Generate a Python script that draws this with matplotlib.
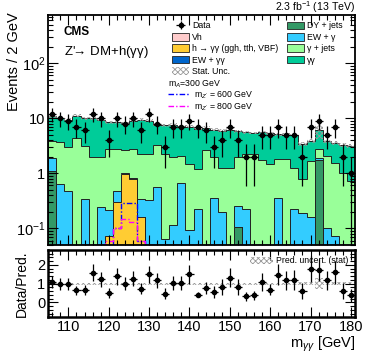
import numpy as np
import matplotlib
matplotlib.use("Agg")
import matplotlib.pyplot as plt
from matplotlib.patches import Patch
from matplotlib.lines import Line2D
from matplotlib.ticker import MultipleLocator, FixedLocator, FuncFormatter, LogLocator

plt.rcParams["font.family"] = ["Liberation Sans", "DejaVu Sans"]
plt.rcParams["mathtext.fontset"] = "custom"
plt.rcParams["mathtext.rm"] = "Liberation Sans"
plt.rcParams["mathtext.it"] = "Liberation Sans:italic"
plt.rcParams["hatch.linewidth"] = 0.6

# -------------------------
# Data
# -------------------------
edges = np.arange(105, 183, 2)          # 2 GeV bins, 105-181
centers = edges[:-1] + 1

dy_jets = [1.1, 0, 0, 0, 0, 0, 0, 0, 0, 0, 0, 0, 0, 0, 0, 0, 0, 0, 0, 0,
           0, 0, 0, 0.105, 0, 0, 0, 0, 0, 0, 0, 0, 0, 1.72, 0, 0, 0, 0]
vh = [0, 0, 0, 0, 0, 0, 0, 0, 0.005, 0.01, 0.01, 0.005, 0, 0, 0, 0, 0, 0, 0, 0,
      0, 0, 0, 0, 0, 0, 0, 0, 0, 0, 0, 0, 0, 0, 0, 0, 0, 0]
h_gg = [0, 0, 0, 0, 0, 0, 0.03, 0.074, 0.30, 0.95, 0.77, 0.155, 0, 0, 0, 0, 0, 0, 0, 0,
        0, 0, 0, 0, 0, 0, 0, 0, 0, 0, 0, 0, 0, 0, 0, 0, 0, 0]
ew_gg = [0, 0, 0, 0, 0, 0, 0, 0, 0, 0.01, 0.01, 0, 0, 0, 0, 0, 0, 0, 0, 0,
         0, 0, 0, 0, 0, 0, 0, 0, 0, 0, 0, 0, 0, 0, 0, 0, 0, 0]
ew_g = [0.76, 0.65, 0.48, 0, 0.34, 0, 0.215, 0.14, 0.17, 0.05, 0.02, 0.175, 0.33, 0.57,
        0.065, 0.116, 0.66, 0.094, 0.22, 0, 0.35, 0.20, 0, 0.145, 0.22, 0, 0, 0, 0.36,
        0, 0.22, 0.187, 0.16, 0.14, 0.102, 0.074, 0, 0]
g_jets = [2.04, 3.05, 2.52, 4.3, 2.76, 2.0, 1.76, 2.59, 2.23, 1.58, 1.99, 1.87, 1.87,
          2.73, 2.14, 1.88, 1.44, 1.41, 0.98, 2.6, 1.62, 1.06, 1.26, 1.72, 1.98, 2.2,
          1.72, 1.45, 1.42, 1.78, 1.04, 0.59, 1.5, 0.94, 1.95, 1.48, 1.02, 0.73]
gg = [6.9, 6.6, 6.4, 6.9, 6.9, 8.0, 7.4, 5.7, 5.8, 5.6, 6.2, 7.2, 6.8, 4.3, 5.2, 5.6,
      5.0, 5.5, 5.3, 4.1, 4.2, 4.7, 4.9, 3.8, 3.4, 3.2, 3.9, 3.9, 3.3, 3.2, 3.7, 2.6,
      2.2, 3.2, 1.75, 2.0, 2.3, 2.4]
stat_rel = [0.06] * 31 + [0.08, 0.08, 0.30, 0.08, 0.08, 0.08, 0.08]

data = [12, 10, 9, 7, 6, 12, 10, 4, 10, 8, 10, 6, 12, 8, 3, 7, 7, 9, 7, 6,
        3, 4, 7, 4, 2, 2, 5, 5, 7, 5, 5, 2, 7, 9, 5, 7, 2, 1]
ratio = [1.08, 1.0, 0.97, 0.65, 0.65, 1.58, 1.23, 0.5, 1.39, 1.0, 1.26, 0.73, 1.49,
         1.17, 0.47, 1.03, 1.03, 1.49, 0.42, 0.79, 0.56, 0.82, 1.32, 0.82, 0.34, 0.37,
         1.08, 0.68, 1.47, 1.17, 1.2, 0.61, 1.79, 1.74, 1.17, 1.61, 0.61, 0.37]

sig_600 = [0, 0, 0, 0, 0, 0, 0, 0, 0.10, 0.29, 0.29, 0.06, 0, 0, 0, 0, 0, 0, 0, 0,
           0, 0, 0, 0, 0, 0, 0, 0, 0, 0, 0, 0, 0, 0, 0, 0, 0, 0]
sig_800 = [0, 0, 0, 0, 0, 0, 0, 0.06, 0.10, 0.15, 0.13, 0.06, 0, 0, 0, 0, 0, 0, 0, 0,
           0, 0, 0, 0, 0, 0, 0, 0, 0, 0, 0, 0, 0, 0, 0, 0, 0, 0]

components = [
    ("DY + jets", dy_jets, "#339966"),
    ("Vh", vh, "#ffcccc"),
    ("h → γγ (ggh, tth, VBF)", h_gg, "#ffcc33"),
    ("EW + γγ", ew_gg, "#0066cc"),
    ("EW + γ", ew_g, "#33ccff"),
    ("γ + jets", g_jets, "#99ff99"),
    ("γγ", gg, "#00cc99"),
]

YMIN, YMAX = 0.05, 750
DASHDOT = (0, (4, 1.5, 1, 1.5))

# -------------------------
# Figure
# -------------------------
fig = plt.figure(figsize=(3.74, 3.57), dpi=100)
ax = fig.add_axes([0.129, 0.314, 0.820, 0.644])
rax = fig.add_axes([0.129, 0.112, 0.820, 0.188])

# stacked backgrounds, drawn from the top layer down
cum = np.cumsum([np.array(c[1], dtype=float) for c in components], axis=0)
for k in range(len(components) - 1, -1, -1):
    top = np.maximum(cum[k], 1e-4)
    ax.stairs(top, edges, baseline=1e-4, fill=True, color=components[k][2], lw=0)
    ax.stairs(top, edges, baseline=1e-4, color="#222222", lw=0.7)

total = cum[-1]
rel = np.array(stat_rel)
ax.fill_between(edges, np.r_[total * (1 - rel), total[-1] * (1 - rel[-1])],
                np.r_[total * (1 + rel), total[-1] * (1 + rel[-1])], step="post",
                facecolor="none", edgecolor="#999999", hatch="xxxxxx", lw=0)

# signals
ax.stairs(np.maximum(sig_600, YMIN * 1.01), edges, color="#0000ff", lw=1.0,
          linestyle=DASHDOT)
ax.stairs(np.maximum(sig_800, YMIN * 1.01), edges, color="#ff00ff", lw=1.0,
          linestyle=DASHDOT)

# data
data = np.array(data, dtype=float)
derr = ax.errorbar(centers, data, xerr=1, yerr=np.sqrt(data), fmt="o", ms=3,
                   color="black", elinewidth=0.9, capsize=0)

ax.set_yscale("log")
ax.set_xlim(105, 181)
ax.set_ylim(YMIN, YMAX)
ax.set_ylabel("Events / 2 GeV", fontsize=10.5, loc="top")
ax.yaxis.set_label_coords(-0.09, 1.01)


def log_fmt(v, pos):
    if np.isclose(v, 1):
        return "1"
    if np.isclose(v, 10):
        return "10"
    return "$10^{%d}$" % int(round(np.log10(v)))


ax.yaxis.set_major_locator(FixedLocator([0.1, 1, 10, 100]))
ax.yaxis.set_major_formatter(FuncFormatter(log_fmt))
ax.yaxis.set_minor_locator(LogLocator(base=10, subs=np.arange(2, 10)))
ax.xaxis.set_major_locator(MultipleLocator(10))
ax.xaxis.set_minor_locator(MultipleLocator(2))
ax.tick_params(labelbottom=False)

for a in (ax, rax):
    a.tick_params(which="both", direction="in", top=True, right=True, labelsize=10.5,
                  width=0.8, pad=2)
    a.tick_params(which="major", length=7)
    a.tick_params(which="minor", length=3.5)
for s in ax.spines.values():
    s.set_linewidth(1.3)
for s in rax.spines.values():
    s.set_linewidth(1.8)

# texts
ax.text(0.05, 0.95, "CMS", transform=ax.transAxes, fontsize=8.5, fontweight="bold",
        va="top", ha="left")
ax.text(0.05, 0.875, "Z'$\\!$→ DM+h(γγ)", transform=ax.transAxes,
        fontsize=9.5, va="top", ha="left")
ax.text(1.0, 1.017, "2.3 fb$^{-1}$ (13 TeV)", transform=ax.transAxes, fontsize=7.6,
        ha="right", va="baseline")

# legends
FS = 6.3
LEG = dict(frameon=False, fontsize=FS, handlelength=2.0, handleheight=1.0,
           labelspacing=0.27, handletextpad=0.3, borderpad=0, borderaxespad=0)
hatch_patch = Patch(facecolor="white", edgecolor="#999999", hatch="xxxxxx", lw=0)
leg_left = [derr,
            Patch(facecolor="#ffcccc", edgecolor="#222222", lw=0.6),
            Patch(facecolor="#ffcc33", edgecolor="#222222", lw=0.6),
            Patch(facecolor="#0066cc", edgecolor="#222222", lw=0.6),
            hatch_patch]
lab_left = ["Data", components[1][0], components[2][0], components[3][0], "Stat. Unc."]
l1 = ax.legend(leg_left, lab_left, loc="upper left", bbox_to_anchor=(0.403, 0.972), **LEG)
ax.add_artist(l1)

leg_right = [Patch(facecolor=c[2], edgecolor="#222222", lw=0.6)
             for c in (components[0], components[4], components[5], components[6])]
lab_right = [components[0][0], components[4][0], components[5][0], components[6][0]]
l2 = ax.legend(leg_right, lab_right, loc="upper left", bbox_to_anchor=(0.778, 0.972), **LEG)
ax.add_artist(l2)

ax.text(0.39, 0.700, "m$_{A}$=300 GeV", transform=ax.transAxes, fontsize=FS,
        va="center", ha="left")
sig_handles = [Line2D([], [], color="#0000ff", lw=1, linestyle=DASHDOT),
               Line2D([], [], color="#ff00ff", lw=1, linestyle=DASHDOT)]
l3 = ax.legend(sig_handles, ["m$_{Z'}$ = 600 GeV", "m$_{Z'}$ = 800 GeV"],
               loc="upper left", bbox_to_anchor=(0.39, 0.676), frameon=False,
               fontsize=FS, handlelength=2.5, labelspacing=0.05, handletextpad=0.5,
               borderpad=0, borderaxespad=0)

# -------------------------
# Ratio panel
# -------------------------
ratio = np.array(ratio)
rax.fill_between(edges, np.r_[1 - rel, 1 - rel[-1]], np.r_[1 + rel, 1 + rel[-1]],
                 step="post", facecolor="none", edgecolor="#999999", hatch="xxxxxx",
                 lw=0, label="Pred. uncert. (stat)")
rax.errorbar(centers, ratio, xerr=1, yerr=ratio / np.sqrt(data), fmt="o", ms=3,
             color="black", elinewidth=0.9, capsize=0)
rax.set_xlim(105, 181)
rax.set_ylim(-0.78, 2.8)
rax.xaxis.set_major_locator(MultipleLocator(10))
rax.xaxis.set_minor_locator(MultipleLocator(2))
rax.yaxis.set_major_locator(FixedLocator([0, 1, 2]))
rax.yaxis.set_minor_locator(MultipleLocator(0.2))
rax.set_ylabel("Data/Pred.", fontsize=10, labelpad=6)
rax.set_xlabel("m$_{γγ}$ [GeV]", fontsize=10.5, loc="right", labelpad=1)
rax.legend(loc="upper right", frameon=False, fontsize=FS, handlelength=2.6,
           handleheight=1.0, handletextpad=0.35, borderaxespad=0.35)

fig.savefig("out.png", dpi=100)
